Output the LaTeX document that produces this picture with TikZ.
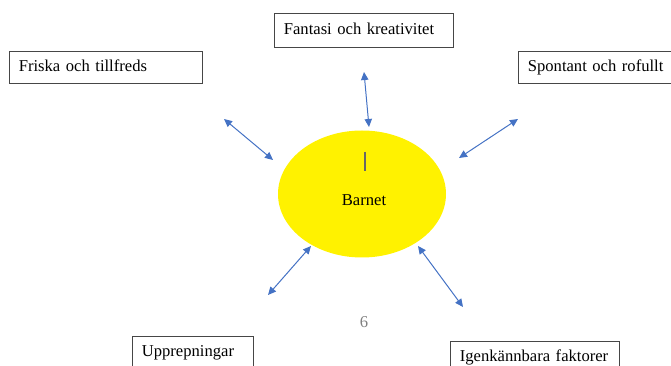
\documentclass[tikz,border=0pt]{standalone}
\usepackage{fontspec}
\setmainfont{Liberation Serif}
\usetikzlibrary{arrows.meta, shapes.geometric}
\definecolor{pilblue}{RGB}{68,114,196}
\definecolor{ramgray}{RGB}{70,70,70}
\definecolor{sidgray}{RGB}{128,128,128}

\begin{document}
\begin{tikzpicture}[x=0.75pt, y=-0.75pt,
  ruta/.style = {draw = ramgray, line width = 0.8pt, anchor = north west, inner xsep = 7pt, inner ysep = 6pt,
                 text height = 9pt, text depth = 3pt, align = left, font = \fontsize{12.45}{15}\selectfont},
  pil/.style = {pilblue, line width = 0.75pt, {Triangle[length=6pt, width=5.5pt]}-{Triangle[length=6pt, width=5.5pt]}}]

\useasboundingbox (0,0) rectangle (671,366);

\node[ellipse, fill = yellow, inner sep = 0pt, minimum width = 126pt, minimum height = 95.25pt] (barnet) at (362,194) {};
\node[font = \fontsize{12.45}{15}\selectfont] (barnettext) at (364,200) {Barnet};
\draw[sidgray!80!black, line width = 1pt] (365,152) -- (365,171);

\node[ruta, text width = 120.25pt, minimum height = 25.5pt] (fantasi) at (274,13) {Fantasi och kreativitet};
\node[ruta, text width = 130.75pt] (friska) at (9,51) {Friska och tillfreds};
\node[ruta, text width = 122.5pt] (spontan) at (518,51) {Spontant och rofullt};
\node[ruta, text width = 76.75pt] (upprepningar) at (132,336) {Upprepningar};
\node[ruta, text width = 112.75pt] (igenkannbara) at (450,341) {Igenkännbara faktorer};

\node[sidgray, font = \fontsize{12.45}{15}\selectfont] (sidnr) at (364,322) {6};

% pilar runt barnet
\coordinate (fantasi-a) at (364,72);
\coordinate (fantasi-b) at (369,127);
\coordinate (friska-a) at (224,119);
\coordinate (friska-b) at (273,160);
\coordinate (spontan-a) at (518,119);
\coordinate (spontan-b) at (459,158);
\coordinate (upprep-a) at (311,246);
\coordinate (upprep-b) at (268,295);
\coordinate (igenk-a) at (418,246);
\coordinate (igenk-b) at (463,307);

\draw[pil] (fantasi-a) -- (fantasi-b);
\draw[pil] (friska-a) -- (friska-b);
\draw[pil] (spontan-a) -- (spontan-b);
\draw[pil] (upprep-a) -- (upprep-b);
\draw[pil] (igenk-a) -- (igenk-b);
\end{tikzpicture}
\end{document}
